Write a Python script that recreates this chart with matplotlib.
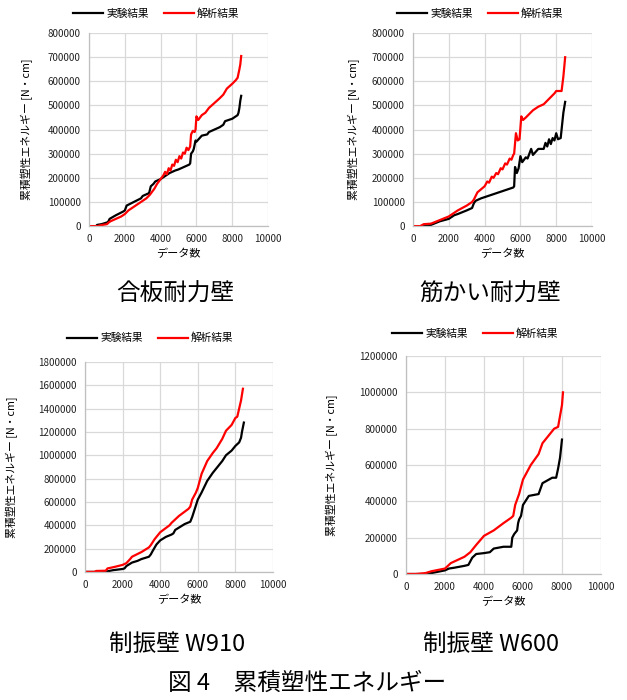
import matplotlib
matplotlib.use('Agg')
import matplotlib.pyplot as plt

plt.rcParams['font.family'] = ['Noto Sans CJK JP', 'DejaVu Sans']

# 合板耐力壁
ply_exp_x = [0, 400, 450, 700, 1000, 1050, 1150, 1500, 1900, 2000, 2100, 2500, 2900, 3000, 3300, 3350, 3450, 3600, 3700,
             4000, 4300, 4500, 4800, 5000, 5300, 5600, 5650, 5700, 5800, 5850, 5950, 6000, 6300, 6600, 6700, 7000, 7300,
             7500, 7600, 7800, 8000, 8200, 8300, 8350, 8400, 8450, 8500]
ply_exp_y = [0, 0, 5000, 8000, 15000, 15000, 30000, 45000, 60000, 65000, 85000, 100000, 115000, 125000, 135000, 135000,
             165000, 175000, 185000, 195000, 210000, 220000, 230000, 235000, 245000, 255000, 260000, 300000, 310000,
             320000, 355000, 350000, 375000, 380000, 390000, 400000, 410000, 420000, 435000, 440000, 445000, 455000,
             460000, 470000, 490000, 520000, 540000]
ply_ana_x = [0, 500, 600, 1000, 1100, 1200, 1500, 1800, 2000, 2200, 2500, 2800, 3000, 3200, 3400, 3500, 3650, 3800, 4000,
             4150, 4250, 4350, 4450, 4550, 4650, 4750, 4850, 4950, 5050, 5150, 5250, 5350, 5450, 5550, 5650, 5700, 5800,
             5900, 5950, 6000, 6100, 6300, 6500, 6700, 7000, 7300, 7500, 7700, 8000, 8200, 8300, 8400, 8450, 8500]
ply_ana_y = [0, 0, 3000, 8000, 15000, 20000, 30000, 40000, 50000, 65000, 80000, 95000, 105000, 115000, 130000, 140000,
             155000, 175000, 195000, 210000, 225000, 215000, 240000, 230000, 255000, 250000, 275000, 265000, 290000,
             280000, 305000, 300000, 325000, 315000, 330000, 380000, 395000, 390000, 400000, 455000, 440000, 460000,
             470000, 490000, 510000, 530000, 545000, 570000, 590000, 605000, 615000, 650000, 670000, 705000]

# 筋かい耐力壁
brace_exp_x = [0, 700, 1000, 1500, 2000, 2300, 2500, 3000, 3300, 3400, 3500, 3800, 4000, 4200, 4400, 4600, 4800, 5000,
               5200, 5400, 5600, 5650, 5700, 5800, 5900, 6000, 6100, 6300, 6400, 6500, 6600, 6700, 7000, 7300, 7400,
               7500, 7600, 7700, 7800, 7900, 8000, 8100, 8250, 8300, 8400, 8500]
brace_exp_y = [0, 0, 5000, 20000, 30000, 45000, 50000, 65000, 75000, 95000, 105000, 115000, 120000, 125000, 130000,
               135000, 140000, 145000, 150000, 155000, 160000, 165000, 245000, 220000, 240000, 290000, 265000, 285000,
               280000, 300000, 320000, 295000, 320000, 320000, 345000, 330000, 360000, 340000, 365000, 355000, 385000,
               360000, 365000, 400000, 470000, 515000]
brace_ana_x = [0, 400, 600, 1000, 1500, 2000, 2300, 2500, 3000, 3300, 3400, 3600, 4000, 4150, 4250, 4400, 4500, 4650,
               4750, 4900, 5000, 5150, 5250, 5400, 5500, 5600, 5650, 5750, 5850, 5950, 6050, 6150, 6300, 6500, 6700,
               7000, 7300, 7500, 7700, 7900, 8000, 8300, 8400, 8500]
brace_ana_y = [0, 0, 8000, 10000, 25000, 40000, 55000, 65000, 85000, 100000, 110000, 140000, 165000, 185000, 180000,
               205000, 200000, 220000, 215000, 240000, 235000, 260000, 255000, 280000, 275000, 295000, 300000, 385000,
               355000, 360000, 455000, 440000, 450000, 465000, 480000, 495000, 505000, 520000, 535000, 550000, 560000,
               560000, 620000, 700000]

# 制振壁 W910
w910_exp_x = [0, 1100, 1200, 1500, 2000, 2100, 2200, 2500, 2800, 3000, 3400, 3500, 3600, 3800, 4000, 4300, 4600, 4700,
              4800, 5000, 5300, 5600, 5700, 5800, 6000, 6200, 6500, 6800, 7000, 7300, 7500, 7800, 8000, 8200, 8300,
              8350, 8450]
w910_exp_y = [0, 0, 5000, 15000, 25000, 30000, 50000, 80000, 95000, 110000, 130000, 150000, 180000, 235000, 270000,
              300000, 320000, 330000, 360000, 380000, 410000, 430000, 470000, 520000, 620000, 680000, 780000, 850000,
              890000, 950000, 1000000, 1040000, 1080000, 1110000, 1150000, 1200000, 1280000]
w910_ana_x = [0, 500, 600, 1100, 1200, 1500, 2000, 2200, 2400, 2500, 3000, 3400, 3500, 3700, 4000, 4500, 4600, 5000,
              5500, 5600, 5700, 5900, 6000, 6200, 6500, 6800, 7000, 7300, 7500, 7800, 8000, 8100, 8200, 8300, 8400]
w910_ana_y = [0, 0, 8000, 10000, 30000, 40000, 60000, 75000, 110000, 130000, 170000, 210000, 230000, 280000, 340000,
              400000, 420000, 480000, 540000, 560000, 620000, 680000, 720000, 840000, 950000, 1020000, 1060000,
              1140000, 1210000, 1260000, 1320000, 1330000, 1400000, 1470000, 1570000]

# 制振壁 W600
w600_exp_x = [0, 1000, 1300, 2000, 2200, 2500, 3000, 3200, 3300, 3400, 3600, 4000, 4300, 4400, 4500, 5000, 5400, 5450,
              5550, 5700, 5750, 5800, 5900, 6000, 6300, 6800, 6900, 7000, 7500, 7700, 7800, 7900, 8000]
w600_exp_y = [0, 0, 5000, 20000, 30000, 35000, 45000, 50000, 70000, 90000, 110000, 115000, 120000, 130000, 140000,
              150000, 150000, 200000, 220000, 240000, 280000, 300000, 320000, 380000, 430000, 440000, 470000, 500000,
              530000, 530000, 580000, 640000, 740000]
w600_ana_x = [0, 500, 1000, 1300, 2000, 2300, 2600, 3000, 3300, 3600, 4000, 4500, 5000, 5400, 5500, 5600, 5800, 6000,
              6200, 6400, 6800, 7000, 7300, 7600, 7800, 7900, 8000, 8050]
w600_ana_y = [0, 0, 5000, 15000, 30000, 60000, 75000, 95000, 120000, 160000, 210000, 240000, 280000, 310000, 320000,
              380000, 440000, 520000, 560000, 600000, 660000, 720000, 760000, 800000, 810000, 870000, 930000, 1000000]

titles = ['合板耐力壁', '筋かい耐力壁', '制振壁 W910', '制振壁 W600']
ymaxes = [800000, 800000, 1800000, 1200000]
ysteps = [100000, 100000, 200000, 200000]
xticks = [0, 2000, 4000, 6000, 8000, 10000]

fig = plt.figure(figsize=(6.27, 7.0), dpi=100)

# axes rectangles (left, bottom, width, height) in figure fractions
rects = [[0.142, 0.677, 0.2855, 0.2757],
         [0.6587, 0.677, 0.2855, 0.2757],
         [0.1356, 0.183, 0.2998, 0.300],
         [0.6475, 0.180, 0.311, 0.3114]]
legend_pos = [(0.249, 0.981), (0.766, 0.981), (0.240, 0.517), (0.758, 0.524)]
title_pos = [(0.279, 0.579), (0.782, 0.579), (0.282, 0.079), (0.783, 0.079)]
ylabel_x = [0.053, 0.574, 0.029, 0.539]

exp_x = [ply_exp_x, brace_exp_x, w910_exp_x, w600_exp_x]
exp_y = [ply_exp_y, brace_exp_y, w910_exp_y, w600_exp_y]
ana_x = [ply_ana_x, brace_ana_x, w910_ana_x, w600_ana_x]
ana_y = [ply_ana_y, brace_ana_y, w910_ana_y, w600_ana_y]

for i in range(4):
    ax = fig.add_axes(rects[i])
    ax.plot(exp_x[i], exp_y[i], color='black', lw=1.6, label='実験結果')
    ax.plot(ana_x[i], ana_y[i], color='#ff0000', lw=1.6, label='解析結果')

    ax.set_xlim(0, 10000)
    ax.set_ylim(0, ymaxes[i])
    ax.set_xticks(xticks)
    ax.set_yticks(range(0, ymaxes[i] + 1, ysteps[i]))
    ax.ticklabel_format(style='plain', useOffset=False)
    ax.grid(True, color='#d9d9d9', lw=0.9)
    ax.set_axisbelow(True)
    for s in ['top', 'right']:
        ax.spines[s].set_visible(False)
    for s in ['left', 'bottom']:
        ax.spines[s].set_color('#bfbfbf')
        ax.spines[s].set_linewidth(0.9)
    ax.tick_params(length=0, labelsize=7, pad=6, colors='#222222')

    ax.set_xlabel('データ数', fontsize=8, labelpad=3)
    ax.set_ylabel('累積塑性エネルギー [N・cm]', fontsize=7.8)
    yc = rects[i][1] + rects[i][3] / 2
    ax.yaxis.set_label_coords(ylabel_x[i], yc, transform=fig.transFigure)

    ax.legend(loc='center', bbox_to_anchor=legend_pos[i], bbox_transform=fig.transFigure,
              ncol=2, frameon=False, fontsize=7.7, handlelength=2.8, handletextpad=0.3, columnspacing=1.4)

    fig.text(title_pos[i][0], title_pos[i][1], titles[i], fontsize=17, ha='center', va='center')

# figure caption
fig.text(0.49, 0.024, '図 4　累積塑性エネルギー', fontsize=17, ha='center', va='center')

plt.savefig('out.png', dpi=100)
